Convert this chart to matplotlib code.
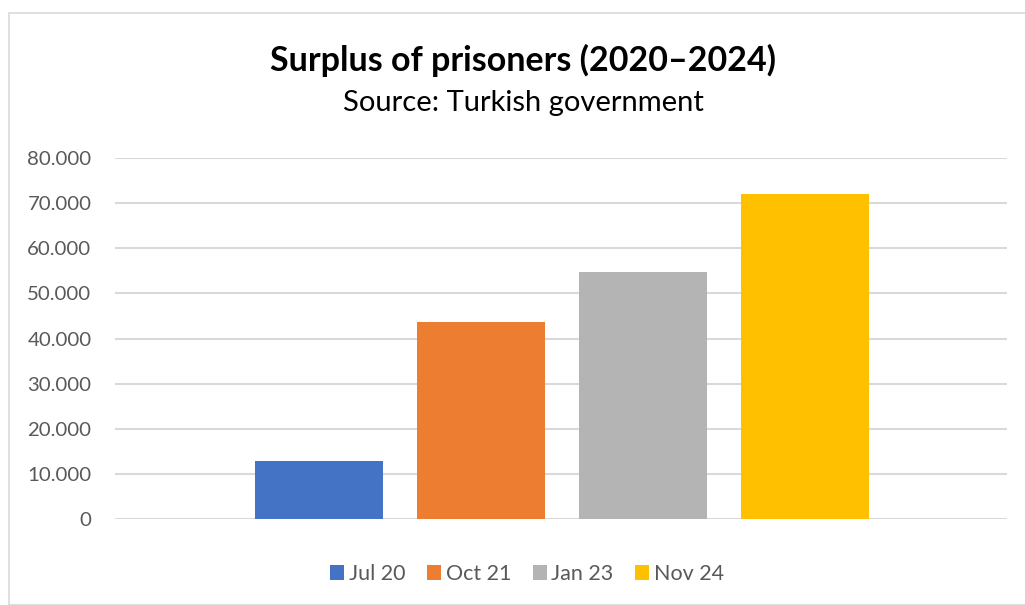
import matplotlib.pyplot as plt
from matplotlib.patches import Rectangle
from matplotlib.ticker import FuncFormatter

periods = ["Jul 20", "Oct 21", "Jan 23", "Nov 24"]
surplus = [12900, 43700, 54700, 72000]
colors = ["#4472C4", "#ED7D31", "#B4B4B4", "#FFC000"]

plt.rcParams['font.family'] = ['Lato', 'DejaVu Sans']

W, H = 1025, 605
fig = plt.figure(figsize=(W / 100, H / 100), dpi=100)

# chart border, Excel style
fig.patches.append(Rectangle((9 / W, 0), 1.2, 1 - 13 / H, transform=fig.transFigure,
                             fill=False, edgecolor="#D9D9D9", linewidth=1.2))

ax = fig.add_axes([115 / W, 1 - 519 / H, (1007 - 115) / W, (519 - 158) / H])

for i, (p, v, c) in enumerate(zip(periods, surplus, colors)):
    ax.bar(i, v, width=0.79, color=c, label=p, zorder=3)

ax.set_xlim(-1.259, 4.247)
ax.set_ylim(0, 80000)
ax.set_yticks(range(0, 80001, 10000))
ax.yaxis.set_major_formatter(FuncFormatter(lambda v, _: f"{v:,.0f}".replace(",", ".")))
ax.grid(axis="y", color="#D9D9D9", linewidth=1.5, zorder=0)
ax.set_xticks([])
for s in ax.spines.values():
    s.set_visible(False)
ax.tick_params(axis="y", length=0, pad=17, labelsize=14.7, labelcolor="#595959")

fig.text(523 / W, 1 - 60 / H, "Surplus of prisoners (2020\u20132024)", ha="center", va="center",
         fontsize=24.5, fontweight="bold", color="black")
fig.text(523 / W, 1 - 103 / H, "Source: Turkish government", ha="center", va="center",
         fontsize=21, color="black")

leg = fig.legend(loc="center", bbox_to_anchor=(527 / W, 1 - 574 / H), ncol=4, frameon=False,
                 fontsize=15.5, handlelength=0.65, handleheight=0.65, handletextpad=0.23,
                 columnspacing=1.0)
for t in leg.get_texts():
    t.set_color("#595959")

fig.savefig("out.png", dpi=100)
